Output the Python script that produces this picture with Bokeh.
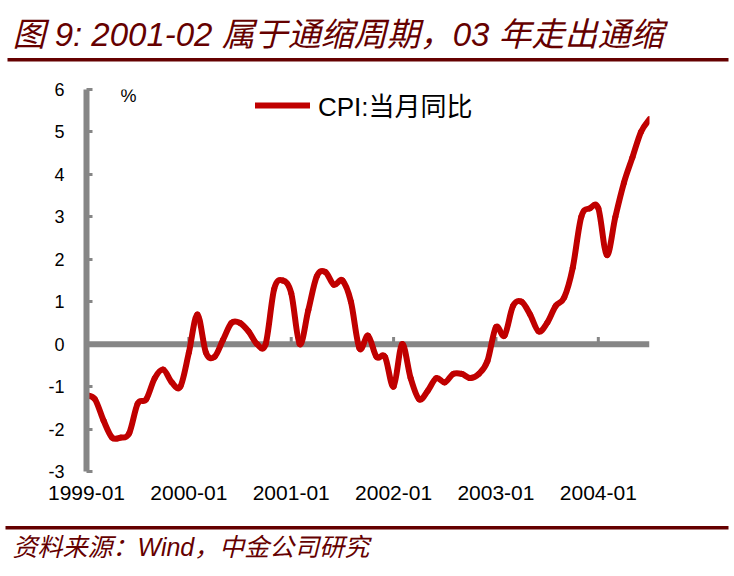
import numpy as np
from bokeh.plotting import figure
from bokeh.layouts import column, row
from bokeh.models import (Range1d, FixedTicker, Label, BoxAnnotation, Span,
                          Legend, LegendItem, ColumnDataSource)
from bokeh.embed import file_html
from bokeh.resources import INLINE

# ---------------- data ----------------
years = [1999, 2000, 2001, 2002, 2003, 2004]
cpi_1999 = [-1.2, -1.3, -1.8, -2.2, -2.2, -2.1, -1.4, -1.3, -0.8, -0.6, -0.9, -1.0]
cpi_2000 = [-0.2, 0.7, -0.2, -0.3, 0.1, 0.5, 0.5, 0.3, 0.0, 0.0, 1.3, 1.5]
cpi_2001 = [1.2, 0.0, 0.8, 1.6, 1.7, 1.4, 1.5, 1.0, -0.1, 0.2, -0.3, -0.3]
cpi_2002 = [-1.0, 0.0, -0.8, -1.3, -1.1, -0.8, -0.9, -0.7, -0.7, -0.8, -0.7, -0.4]
cpi_2003 = [0.4, 0.2, 0.9, 1.0, 0.7, 0.3, 0.5, 0.9, 1.1, 1.8, 3.0, 3.2]
cpi_2004 = [3.2, 2.1, 3.0, 3.8, 4.4, 5.0, 5.3]
cpi = cpi_1999 + cpi_2000 + cpi_2001 + cpi_2002 + cpi_2003 + cpi_2004
months = [f"{y}-{m:02d}" for y in years for m in range(1, 13)][:len(cpi)]
tick_labels = ["1999-01", "2000-01", "2001-01", "2002-01", "2003-01", "2004-01"]
y_ticks = [-3, -2, -1, 0, 1, 2, 3, 4, 5, 6]
series_name = "CPI:当月同比"
unit_text = "%"
title_text = "图 9: 2001-02 属于通缩周期，03 年走出通缩"
source_text = "资料来源：Wind，中金公司研究"

# ---------------- styles ----------------
RED = "#C00000"
GREY = "#868686"
MAROON = "#650000"
FONT = "Liberation Sans, Noto Sans CJK SC"
W = 734
H_TOP, H_MAIN, H_BOT = 62, 458, 56


def blank_fig(h):
    f = figure(width=W, height=h, output_backend="svg", toolbar_location=None,
               x_axis_type=None, y_axis_type=None, title=None, min_border=0,
               x_range=Range1d(0, W), y_range=Range1d(h, 0))
    f.outline_line_color = None
    f.background_fill_color = "white"
    f.border_fill_color = "white"
    return f


# ---------------- title strip ----------------
top = blank_fig(H_TOP)
top.add_layout(Label(x=12, y=34, x_units="canvas", y_units="canvas", text=title_text,
                     text_font=FONT, text_font_size="33px", text_font_style="italic",
                     text_baseline="middle", text_color=MAROON))
top.add_layout(BoxAnnotation(left=7, right=728, top=57.5, bottom=61,
                             left_units="canvas", right_units="canvas",
                             top_units="canvas", bottom_units="canvas",
                             fill_color=MAROON, fill_alpha=1, line_color=None))

# ---------------- main chart ----------------
xs = np.arange(len(cpi), dtype=float)
ys = np.array(cpi, dtype=float)
tick_pos = [months.index(t) for t in tick_labels]

# smooth (Excel-like) line: cubic Bezier segments through the data points
n = len(cpi)
i = np.arange(n - 1)
prev = np.maximum(i - 1, 0)
nxt = np.minimum(i + 2, n - 1)
seg = ColumnDataSource(dict(
    x0=xs[i], y0=ys[i], x1=xs[i + 1], y1=ys[i + 1],
    cx0=xs[i] + (xs[i + 1] - xs[prev]) / 6.0,
    cy0=ys[i] + (ys[i + 1] - ys[prev]) / 6.0,
    cx1=xs[i + 1] - (xs[nxt] - xs[i]) / 6.0,
    cy1=ys[i + 1] - (ys[nxt] - ys[i]) / 6.0,
))

p = figure(width=W, height=H_MAIN, output_backend="svg", toolbar_location=None,
           x_range=Range1d(0, len(cpi) - 1), y_range=Range1d(y_ticks[0], y_ticks[-1]),
           min_border_left=86, min_border_right=85, min_border_top=27,
           min_border_bottom=49)
p.title.visible = False
p.outline_line_color = None
p.xgrid.visible = False
p.ygrid.visible = False
p.background_fill_color = "white"
p.border_fill_color = "white"

p.add_layout(Span(location=0, dimension="width", line_color=GREY,
                  line_width=6, level="underlay"))
p.segment(x0=tick_pos, y0=[0] * len(tick_pos), x1=tick_pos,
          y1=[0.17] * len(tick_pos), line_color=GREY, line_width=3, level="underlay")

r = p.bezier(x0="x0", y0="y0", x1="x1", y1="y1", cx0="cx0", cy0="cy0",
             cx1="cx1", cy1="cy1", source=seg, line_color=RED, line_width=6,
             line_cap="round")

p.yaxis.ticker = FixedTicker(ticks=y_ticks)
p.yaxis.major_label_overrides = {t: str(t) for t in y_ticks}
p.yaxis.axis_line_color = GREY
p.yaxis.axis_line_width = 6
p.yaxis.major_tick_line_color = GREY
p.yaxis.major_tick_line_width = 3
p.yaxis.major_tick_in = 6
p.yaxis.major_tick_out = 0
p.yaxis.minor_tick_line_color = None
p.yaxis.major_label_standoff = 22
p.yaxis.major_label_text_font = FONT
p.yaxis.major_label_text_font_size = "18px"
p.yaxis.major_label_text_color = "black"

p.xaxis.ticker = FixedTicker(ticks=tick_pos)
p.xaxis.major_label_overrides = {t: lab for t, lab in zip(tick_pos, tick_labels)}
p.xaxis.axis_line_color = None
p.xaxis.major_tick_line_color = None
p.xaxis.minor_tick_line_color = None
p.xaxis.major_tick_out = 0
p.xaxis.major_label_standoff = 14
p.xaxis.major_label_text_font = FONT
p.xaxis.major_label_text_font_size = "21px"
p.xaxis.major_label_text_color = "black"

legend = Legend(items=[LegendItem(label=series_name, renderers=[r])],
                location=(169, 348), orientation="horizontal",
                glyph_width=55, glyph_height=20, label_standoff=8,
                padding=0, margin=0, border_line_color=None,
                background_fill_alpha=0,
                label_text_font=FONT, label_text_font_size="26px",
                label_text_color="black")
p.add_layout(legend)

p.add_layout(Label(x=120, y=33, x_units="canvas", y_units="canvas", text=unit_text,
                   text_font=FONT, text_font_size="18px",
                   text_baseline="middle", text_color="black"))

# ---------------- source strip ----------------
bot = blank_fig(H_BOT)
bot.add_layout(BoxAnnotation(left=5, right=728, top=5.5, bottom=9,
                             left_units="canvas", right_units="canvas",
                             top_units="canvas", bottom_units="canvas",
                             fill_color=MAROON, fill_alpha=1, line_color=None))
bot.add_layout(Label(x=12, y=26, x_units="canvas", y_units="canvas", text=source_text,
                     text_font=FONT, text_font_size="25px", text_font_style="italic",
                     text_baseline="middle", text_color=MAROON))

page = column(row(top), row(p), row(bot), spacing=0)
open("out.html", "w").write(file_html(page, INLINE))
